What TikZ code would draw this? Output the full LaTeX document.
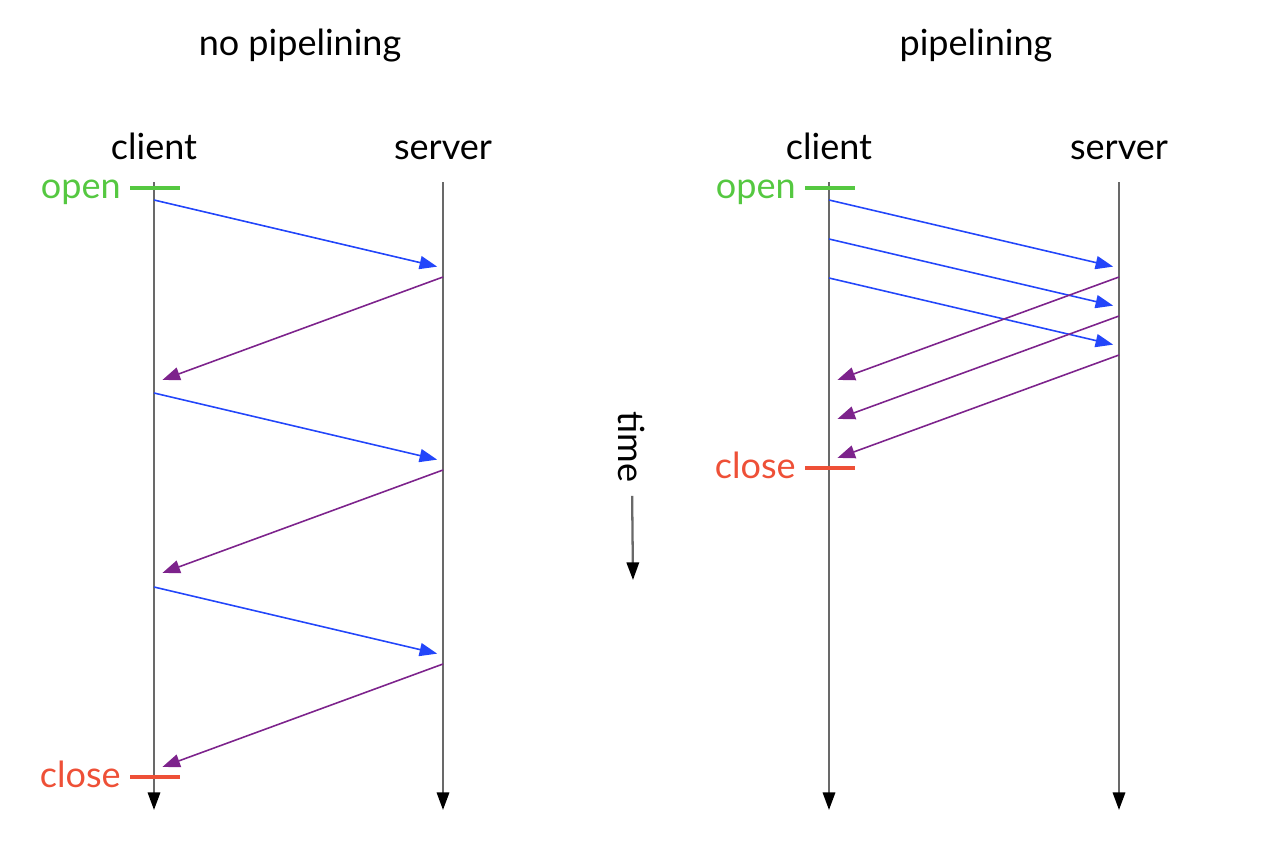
\documentclass[tikz,border=0pt]{standalone}
\usepackage{fontspec}
\setmainfont{Lato}
\usetikzlibrary{arrows.meta, positioning}
\definecolor{linegray}{RGB}{105,105,105}
\definecolor{reqblue}{RGB}{35,70,250}
\definecolor{resppurple}{RGB}{125,35,140}
\definecolor{opengreen}{RGB}{85,200,65}
\definecolor{closered}{RGB}{238,80,55}
\tikzset{
  txt/.style={font=\fontsize{20.5}{24}\selectfont, inner sep=0},
  lifeline/.style={draw=linegray, line width=1.3pt, -{Triangle[length=10pt,width=7pt,black]}},
  request/.style={draw=reqblue, line width=0.9pt, -{Triangle[length=10pt,width=7.5pt,fill=reqblue]}, shorten >=0.12cm},
  response/.style={draw=resppurple, line width=0.9pt, -{Triangle[length=10pt,width=7.5pt,fill=resppurple]}, shorten >=0.18cm},
  tick/.style={line width=1.8pt}
}

\begin{document}
\begin{tikzpicture}[x=0.02cm, y=-0.02cm]
  \useasboundingbox (0,0) rectangle (1265,845);

  % titles
  \node[txt, anchor=base](t1) at (300,55){no pipelining};
  \node[txt, anchor=base](t2) at (976,55){pipelining};

  % lifelines
  \node[txt, anchor=base](c1) at (154,159){client};
  \node[txt, anchor=base](s1) at (443,159){server};
  \node[txt, anchor=base](c2) at (829,159){client};
  \node[txt, anchor=base](s2) at (1119,159){server};
  \coordinate (c1top) at (154,182);
  \coordinate (c1bot) at (154,810);
  \coordinate (s1top) at (443,182);
  \coordinate (s1bot) at (443,810);
  \coordinate (c2top) at (829,182);
  \coordinate (c2bot) at (829,810);
  \coordinate (s2top) at (1119,182);
  \coordinate (s2bot) at (1119,810);
  \draw[lifeline](c1top)--(c1bot);
  \draw[lifeline](s1top)--(s1bot);
  \draw[lifeline](c2top)--(c2bot);
  \draw[lifeline](s2top)--(s2bot);

  % open / close
  \node[txt, text=opengreen, anchor=base east](open1) at (121,198){open};
  \node[txt, text=closered, anchor=base east](close1) at (121,787){close};
  \node[txt, text=opengreen, anchor=base east](open2) at (796,198){open};
  \node[txt, text=closered, anchor=base east](close2) at (796,478){close};
  \draw[tick, opengreen](130,188)--(180,188);
  \draw[tick, closered](130,777)--(180,777);
  \draw[tick, opengreen](805,188)--(855,188);
  \draw[tick, closered](805,468)--(855,468);

  % no pipelining
  \foreach \i/\y in {1/200, 2/393, 3/587}{
    \coordinate (qa\i) at (154,\y);
    \coordinate (qb\i) at (443,{\y+68});
    \coordinate (ra\i) at (443,{\y+77});
    \coordinate (rb\i) at (154,{\y+183});
    \draw[request](qa\i)--(qb\i);
    \draw[response](ra\i)--(rb\i);
  }

  % pipelining
  \foreach \i/\y in {1/200, 2/239, 3/278}{
    \coordinate (pa\i) at (829,\y);
    \coordinate (pb\i) at (1119,{\y+68});
    \draw[request](pa\i)--(pb\i);
  }
  \foreach \i/\y in {1/277, 2/316, 3/355}{
    \coordinate (sa\i) at (1119,\y);
    \coordinate (sb\i) at (829,{\y+106});
    \draw[response](sa\i)--(sb\i);
  }

  % time
  \node[txt, rotate=-90](time) at (632,447){time};
  \coordinate (timeend) at (633,580);
  \draw[lifeline, shorten <=0.26cm](time.east)--(timeend);
\end{tikzpicture}
\end{document}
